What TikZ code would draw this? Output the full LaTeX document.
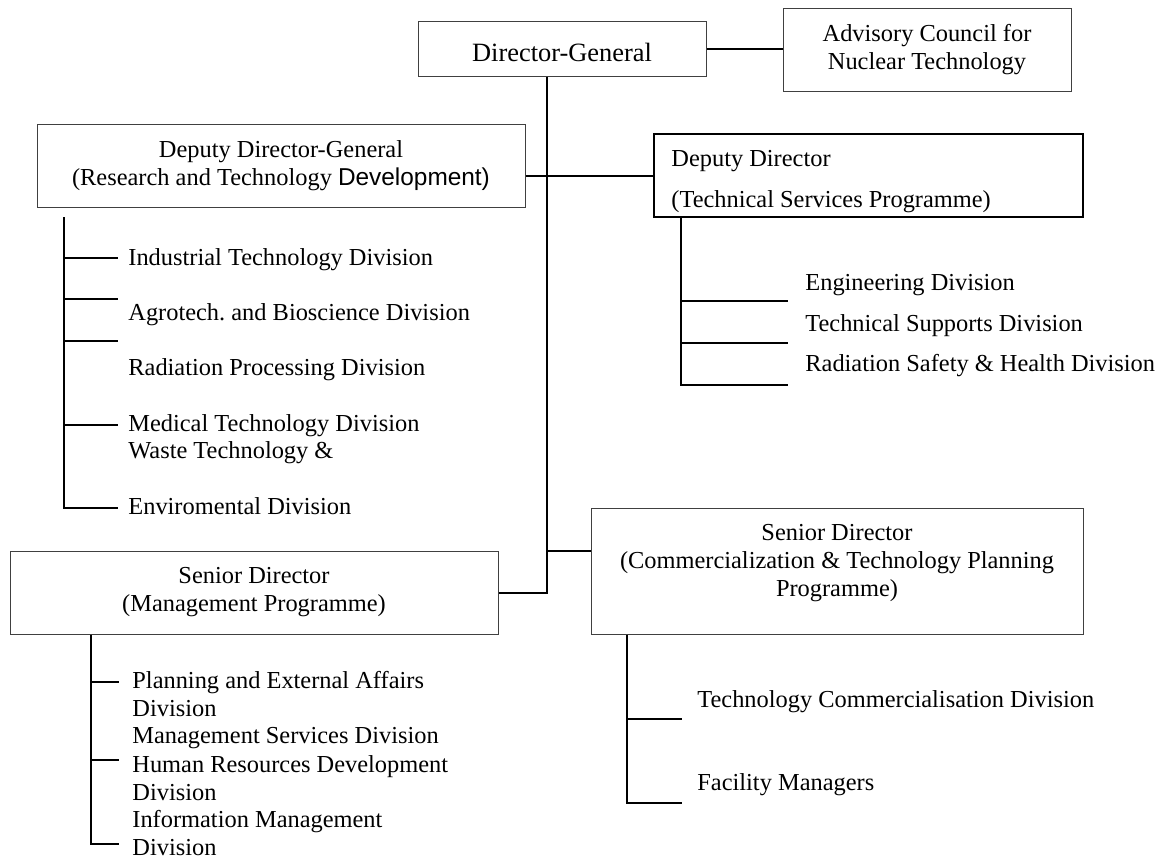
\documentclass[tikz,border=0pt]{standalone}
\usepackage{fontspec}
\setmainfont{Liberation Serif}
\newfontfamily\arialfont{Liberation Sans}

\begin{document}
\frenchspacing
\begin{tikzpicture}[x=0.5pt,y=-0.5pt,
  every node/.style={font=\fontsize{12.2}{14}\selectfont, inner sep=0pt},
  box/.style={draw=black!75, line width=0.5pt, align=center},
  item/.style={anchor=base west, align=left},
  link/.style={line width=1pt}]
\path[use as bounding box] (0,0) rectangle (1163,859);

% boxes
\node[box, minimum width=144pt, minimum height=27.5pt] (dg) at (562,48.5) {};
\node (dgtxt) at (562,52) {\fontsize{13.2}{15}\selectfont Director-General};
\node[box, minimum width=144pt, minimum height=41.5pt] (adv) at (927,49.5) {Advisory Council for\\Nuclear Technology};
\node[box, minimum width=244pt, minimum height=41.5pt] (ddg) at (281,165.5) {Deputy Director-General\\(Research and Technology {\arialfont Development)}};
\node[box, draw=black, line width=1pt, minimum width=214.5pt, minimum height=41.5pt] (dd) at (868.5,175.5) {};
\node[anchor=west, align=left] (ddtxt) at (671,181.5) {Deputy Director\\[6.5pt](Technical Services Programme)};
\node[box, minimum width=244pt, minimum height=41.5pt] (mgmt) at (254,592.5) {Senior Director\\(Management Programme)};
\node[box, minimum width=246pt, minimum height=63pt] (com) at (837,571) {};
\node[align=center] (comtxt) at (837,563) {Senior Director\\(Commercialization \& Technology Planning\\Programme)};

% connectors
\coordinate (trunk) at (547,0);
\coordinate (cj) at (547,551);
\draw[link] (dg.east) -- (dg.east -| adv.west);
\draw[link] (trunk |- dg.south) -- (trunk |- mgmt.east) -- (mgmt.east);
\draw[link] (dd.west -| ddg.east) -- (dd.west);
\draw[link] (cj) -- (cj -| com.west);

% divisions
\coordinate (rtd) at (64,217);
\draw[link] (rtd) -- ++(0,291) -- ++(54,0);
\foreach \y in {41,82,124,208}
  \draw[link] (rtd) ++(0,\y) -- ++(54,0);
\coordinate (tsp) at (dd.south -| 681,0);
\draw[link] (tsp) -- ++(0,167) -- ++(107,0);
\foreach \y in {83,125}
  \draw[link] (tsp) ++(0,\y) -- ++(107,0);
\coordinate (mp) at (mgmt.south -| 91,0);
\draw[link] (mp) -- ++(0,209) -- ++(28,0);
\foreach \y in {47,125}
  \draw[link] (mp) ++(0,\y) -- ++(28,0);
\coordinate (ctp) at (com.south -| 627,0);
\draw[link] (ctp) -- ++(0,168) -- ++(55,0);
\draw[link] (ctp) ++(0,84) -- ++(55,0);

\node[item] (indtech) at (128,265) {Industrial Technology Division};
\node[item] (agro) at (128,320) {Agrotech. and Bioscience Division};
\node[item] (radproc) at (128,375) {Radiation Processing Division};
\node[item] (medtech) at (128,431) {Medical Technology Division};
\node[item] (waste) at (128,458) {Waste Technology \&};
\node[item] (enviro) at (128,514) {Enviromental Division};

\node[item] (eng) at (805,290) {Engineering Division};
\node[item] (techsup) at (805,331) {Technical Supports Division};
\node[item] (radsafe) at (805,371) {Radiation Safety \& Health Division};

% base of a two-line item is its last line
\node[item] (plan) at (132,716) {Planning and External Affairs\\Division};
\node[item] (mgmtsvc) at (132,743) {Management Services Division};
\node[item] (hrd) at (132,800) {Human Resources Development\\Division};
\node[item] (infomgmt) at (132,855) {Information Management\\Division};

\node[item] (techcom) at (697,707) {Technology Commercialisation Division};
\node[item] (facility) at (697,790) {Facility Managers};
\end{tikzpicture}
\end{document}
